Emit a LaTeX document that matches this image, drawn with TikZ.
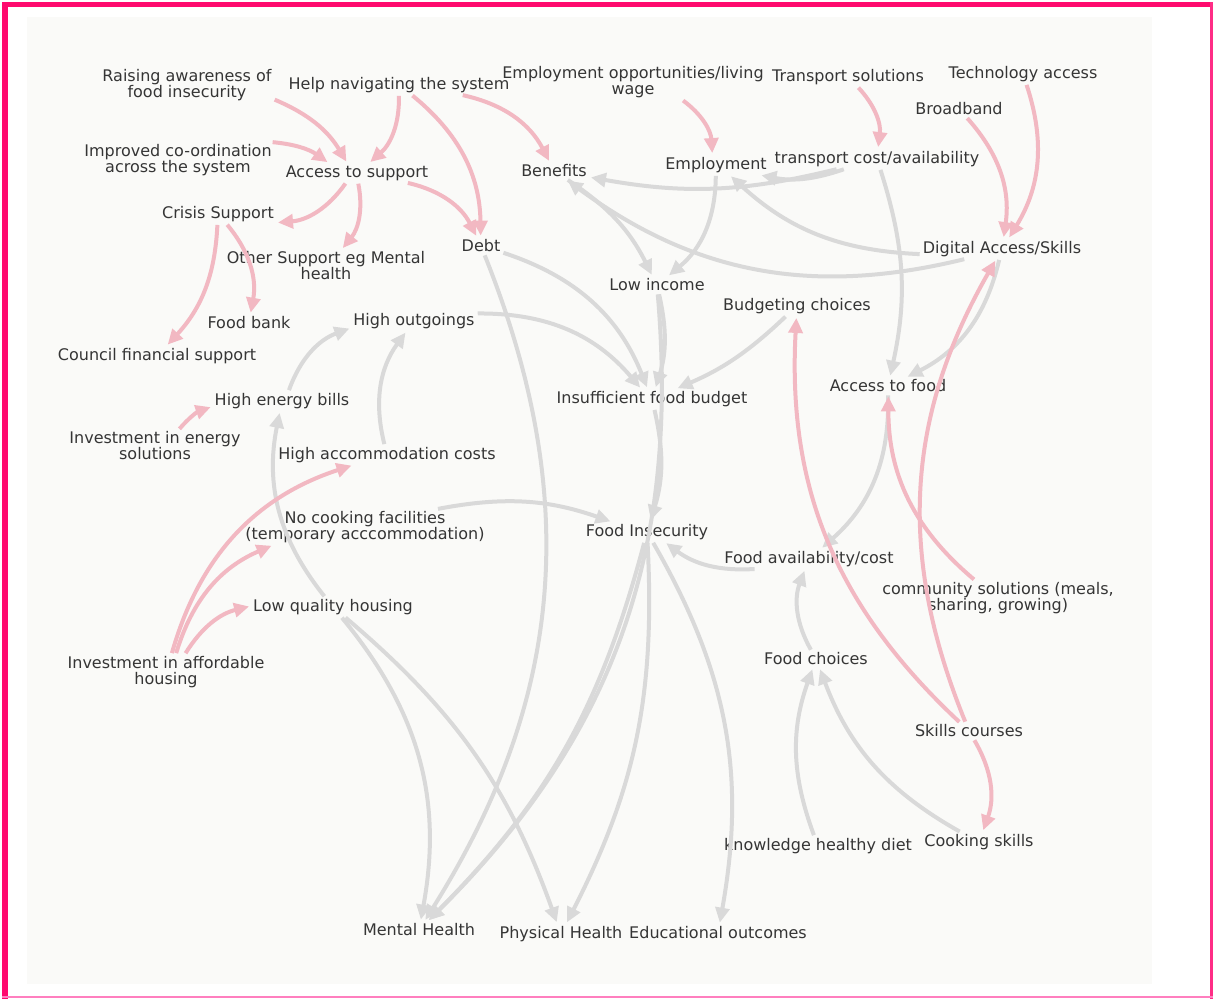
\documentclass[tikz,border=0pt]{standalone}
\usepackage{fontspec}
\setmainfont{DejaVu Sans}
\usetikzlibrary{arrows.meta}
\definecolor{linkred}{HTML}{F2B8C2}
\definecolor{linkgrey}{HTML}{D9D9D9}
\definecolor{labelgrey}{HTML}{353535}
\definecolor{panelgrey}{HTML}{FAFAF8}
\definecolor{framered}{HTML}{FF0A6E}
\definecolor{framepink}{HTML}{FF7FBF}

\tikzset{
  factor/.style={text=labelgrey, font=\fontsize{16}{16}\selectfont, align=center, inner sep=2pt},
  redlink/.style={draw=linkred, line width=4pt, -{Triangle[length=15pt,width=14pt]}, shorten >=2pt, shorten <=1pt},
  greylink/.style={draw=linkgrey, line width=4pt, -{Triangle[length=15pt,width=14pt]}, shorten >=2pt, shorten <=1pt},
}

\begin{document}
\begin{tikzpicture}[x=1pt, y=-1pt]
    % Frame
    \fill[white] (0,0) rectangle (1215,999);
    \useasboundingbox (0,0) rectangle (1215,999);
    \fill[panelgrey] (27,17) rectangle (1152,984);
    \fill[framered] (2,2) rectangle (1213,7);
    \fill[framered] (2,2) rectangle (8,999);
    \fill[framered!70!framepink] (1210,2) rectangle (1213,999);
    \fill[framepink] (2,996) rectangle (1213,998);

    % Factors
    \node[factor] (raise) at (187,85) {Raising awareness of\\food insecurity};
    \node[factor] (helpnav) at (399,85) {Help navigating the system};
    \node[factor] (empopp) at (633,82) {Employment opportunities/living\\wage};
    \node[factor] (transol) at (848,77) {Transport solutions};
    \node[factor] (techacc) at (1023,74) {Technology access};
    \node[factor] (broadband) at (959,109) {Broadband};
    \node[factor] (coord) at (178,160) {Improved co-ordination\\across the system};
    \node[factor] (access) at (357,173) {Access to support};
    \node[factor] (benefits) at (554,171) {Benefits};
    \node[factor] (employ) at (716,165) {Employment};
    \node[factor] (transcost) at (877,159) {transport cost/availability};
    \node[factor] (crisis) at (218,214) {Crisis Support};
    \node[factor] (debt) at (481,246) {Debt};
    \node[factor] (other) at (326,266) {Other Support eg Mental\\health};
    \node[factor] (digital) at (1002,249) {Digital Access/Skills};
    \node[factor] (lowinc) at (657,285) {Low income};
    \node[factor] (budget) at (797,306) {Budgeting choices};
    \node[factor] (foodbank) at (249,323) {Food bank};
    \node[factor] (outgo) at (414,321) {High outgoings};
    \node[factor] (council) at (157,356) {Council financial support};
    \node[factor] (accfood) at (888,386) {Access to food};
    \node[factor] (energy) at (282,401) {High energy bills};
    \node[factor] (insuff) at (652,399) {Insufficient food budget};
    \node[factor] (invenergy) at (155,446) {Investment in energy\\solutions};
    \node[factor] (accom) at (387,455) {High accommodation costs};
    \node[factor] (nocook) at (365,527) {No cooking facilities\\(temporary acccommodation)};
    \node[factor] (foodins) at (647,532) {Food Insecurity};
    \node[factor] (foodavail) at (809,559) {Food availability/cost};
    \node[factor] (community) at (998,598) {community solutions (meals,\\sharing, growing)};
    \node[factor] (lowqual) at (333,607) {Low quality housing};
    \node[factor] (choices) at (816,659) {Food choices};
    \node[factor] (invhouse) at (166,672) {Investment in affordable\\housing};
    \node[factor] (skills) at (969,731) {Skills courses};
    \node[factor] (knowledge) at (818,846) {knowledge healthy diet};
    \node[factor] (cooking) at (979,842) {Cooking skills};
    \node[factor] (mental) at (419,930) {Mental Health};
    \node[factor] (physical) at (561,934) {Physical Health};
    \node[factor] (edu) at (718,933) {Educational outcomes};

    % Grey links
    \draw[greylink] (transcost) to[bend left=12] (benefits);
    \draw[greylink] (transcost) to[bend left=15] (employ);
    \draw[greylink] (digital) to[bend left=20] (employ);
    \draw[greylink] (digital) to[bend left=25] (benefits);
    \draw[greylink] (benefits) to[bend left=15] (lowinc);
    \draw[greylink] (employ) to[bend left=25] (lowinc);
    \draw[greylink] (lowinc) to[bend left=15] (insuff);
    \draw[greylink] (lowinc) to[bend left=25] (mental);
    \draw[greylink] (insuff) to[bend left=15] (foodins);
    \draw[greylink] (outgo) to[bend left=25] (insuff);
    \draw[greylink] (debt) to[bend left=25] (insuff);
    \draw[greylink] (budget) to[bend left=10] (insuff);
    \draw[greylink] (transcost) to[bend left=15] (accfood);
    \draw[greylink] (digital) to[bend left=25] (accfood);
    \draw[greylink] (accfood) to[bend left=25] (foodavail);
    \draw[greylink] (foodavail) to[bend left=20] (foodins);
    \draw[greylink] (choices) to[bend left=25] (foodavail);
    \draw[greylink] (knowledge) to[bend left=20] (choices);
    \draw[greylink] (cooking) to[bend left=20] (choices);
    \draw[greylink] (lowqual) to[bend left=25] (energy);
    \draw[greylink] (lowqual) to[bend left=25] (mental);
    \draw[greylink] (lowqual) to[bend left=15] (physical);
    \draw[greylink] (energy) to[bend left=25] (outgo);
    \draw[greylink] (accom) to[bend left=25] (outgo);
    \draw[greylink] (nocook) to[bend left=15] (foodins);
    \draw[greylink] (debt) to[bend left=27] (mental);
    \draw[greylink] (foodins) to[bend left=15] (mental);
    \draw[greylink] (foodins) to[bend left=15] (physical);
    \draw[greylink] (foodins) to[bend left=20] (edu);

    % Red links
    \draw[redlink] (raise) to[bend left=18] (access);
    \draw[redlink] (coord) to[bend left=15] (access);
    \draw[redlink] (helpnav) to[bend left=25] (access);
    \draw[redlink] (helpnav) to[bend left=25] (debt);
    \draw[redlink] (helpnav.-9) to[bend left=25] (benefits);
    \draw[redlink] (access) to[bend left=25] (crisis);
    \draw[redlink] (access) to[bend left=25] (other);
    \draw[redlink] (access.-11) to[bend left=25] (debt);
    \draw[redlink] (crisis) to[bend left=20] (council);
    \draw[redlink] (crisis) to[bend left=25] (foodbank);
    \draw[redlink] (invenergy) to[bend left=15] (energy);
    \draw[redlink] (invhouse) to[bend left=28] (accom);
    \draw[redlink] (invhouse) to[bend left=25] (nocook);
    \draw[redlink] (invhouse) to[bend left=22] (lowqual);
    \draw[redlink] (empopp) to[bend left=25] (employ);
    \draw[redlink] (transol) to[bend left=25] (transcost);
    \draw[redlink] (broadband) to[bend left=25] (digital);
    \draw[redlink] (techacc) to[bend left=25] (digital);
    \draw[redlink] (skills) to[bend left=25] (budget);
    \draw[redlink] (skills) to[bend left=26] (digital);
    \draw[redlink] (skills) to[bend left=25] (cooking);
    \draw[redlink] (community) to[bend left=25] (accfood);
\end{tikzpicture}
\end{document}
